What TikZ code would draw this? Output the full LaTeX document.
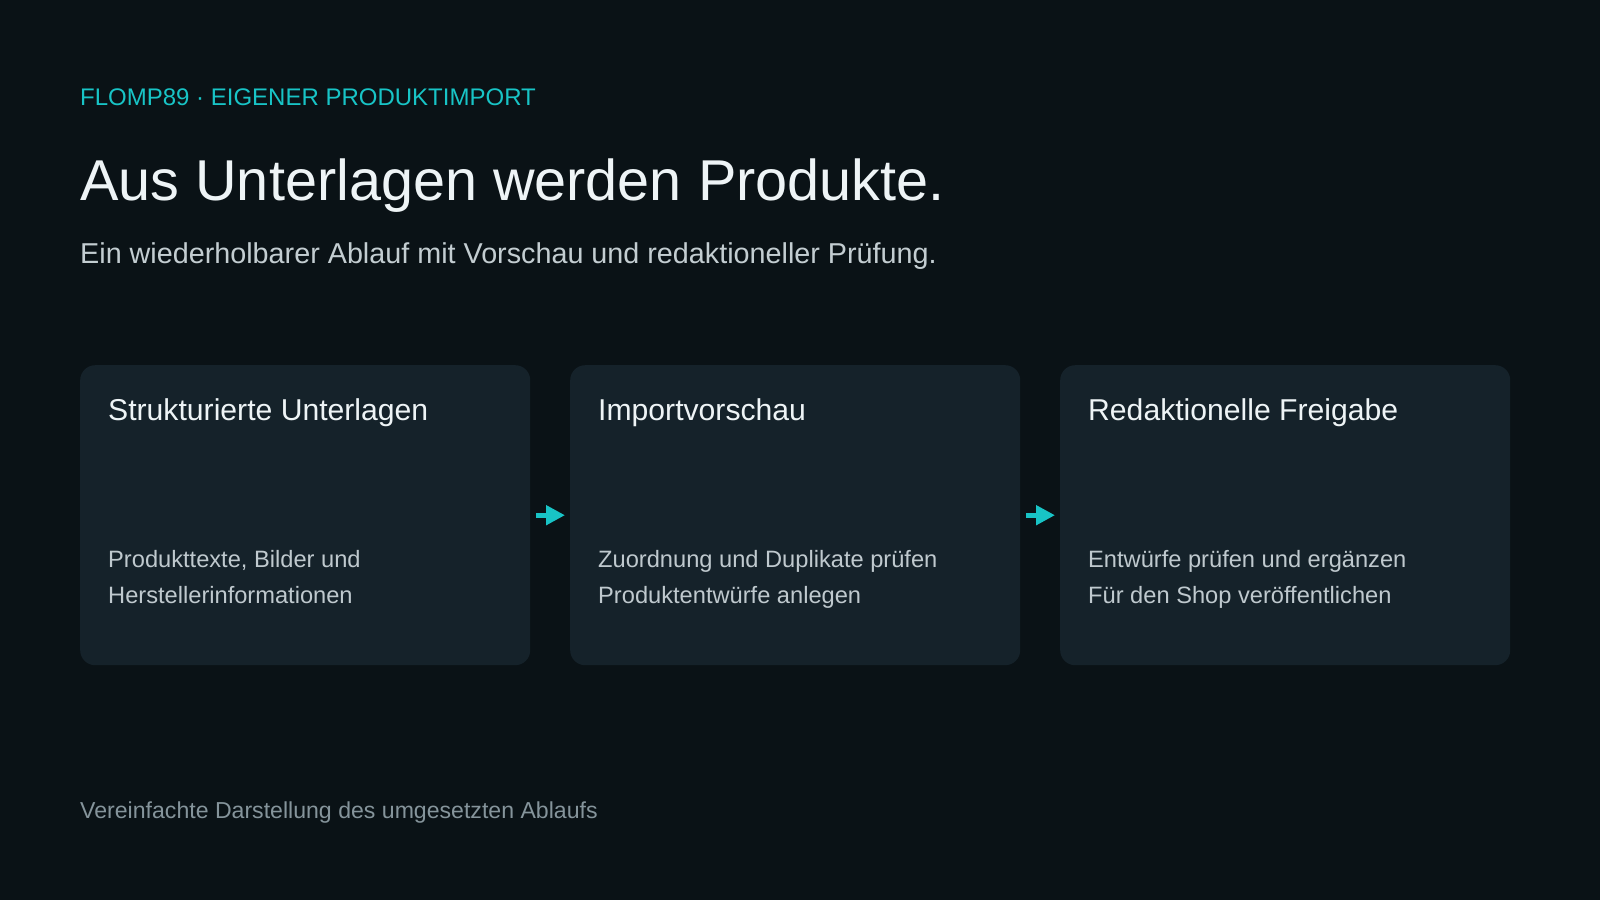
\documentclass[tikz,border=0pt]{standalone}
\usepackage{fontspec}
\setmainfont{Liberation Sans}
\usetikzlibrary{arrows.meta,positioning}
\definecolor{bgdark}{HTML}{0A1216}
\definecolor{boxfill}{HTML}{15222A}
\definecolor{accent}{HTML}{18C4C6}
\definecolor{headwhite}{HTML}{EEF4F6}
\definecolor{subgray}{HTML}{C3CDD1}
\definecolor{bodygray}{HTML}{BFC9CE}
\definecolor{footgray}{HTML}{85949B}
\begin{document}
\begin{tikzpicture}
        [x=1pt, y=-1pt,
        stage/.style={fill=boxfill, rounded corners=15pt, minimum width=450pt, minimum height=300pt, inner sep=0pt, anchor=north west},
        stagetitle/.style={headwhite, anchor=base west, inner sep=0pt, font=\fontsize{30.15}{36}\selectfont},
        stagetext/.style={bodygray, anchor=base west, inner sep=0pt, align=left, font=\fontsize{23.65}{36}\selectfont},
        flow/.style={accent, line width=5pt, -{Triangle[length=19pt, width=19pt]}, shorten <=6pt, shorten >=5pt}]

        \fill [bgdark] (0,0) rectangle (1600,900);
        \useasboundingbox (0,0) rectangle (1600,900);

        \node [accent, anchor=base west, inner sep=0pt, font=\fontsize{24}{29}\selectfont] (eyebrow) at (80,105) {FLOMP89 · EIGENER PRODUKTIMPORT};
        \node [headwhite, anchor=base west, inner sep=0pt, font=\fontsize{57.6}{70}\selectfont] (headline) at (80,200) {Aus Unterlagen werden Produkte.};
        \node [subgray, anchor=base west, inner sep=0pt, font=\fontsize{28.75}{34}\selectfont] (subline) at (80,263) {Ein wiederholbarer Ablauf mit Vorschau und redaktioneller Prüfung.};

        \node [stage] (unterlagen) at (80,365) {};
        \node [stage] (vorschau) at (570,365) {};
        \node [stage] (freigabe) at (1060,365) {};

        % last line sits on the base anchor
        \node [stagetitle] at (108,420) {Strukturierte Unterlagen};
        \node [stagetext] at (108,603) {Produkttexte, Bilder und\\Herstellerinformationen};

        \node [stagetitle] at (598,420) {Importvorschau};
        \node [stagetext] at (598,603) {Zuordnung und Duplikate prüfen\\Produktentwürfe anlegen};

        \node [stagetitle] at (1088,420) {Redaktionelle Freigabe};
        \node [stagetext] at (1088,603) {Entwürfe prüfen und ergänzen\\Für den Shop veröffentlichen};

        \draw [flow] (unterlagen.east) -- (vorschau.west);
        \draw [flow] (vorschau.east) -- (freigabe.west);

        \node [footgray, anchor=base west, inner sep=0pt, font=\fontsize{23.1}{28}\selectfont] (footnote) at (80,818) {Vereinfachte Darstellung des umgesetzten Ablaufs};
    \end{tikzpicture}
\end{document}
